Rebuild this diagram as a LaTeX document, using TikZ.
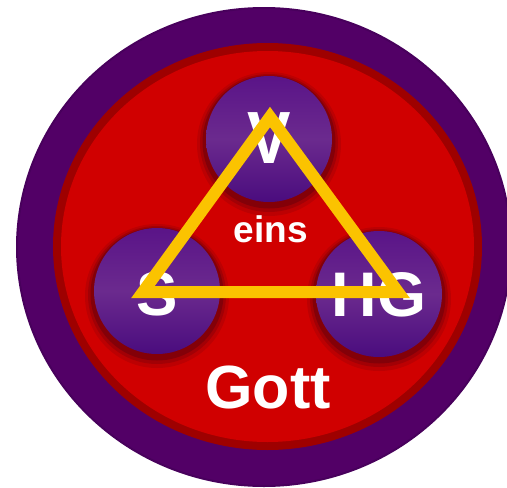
\documentclass[tikz,border=0pt]{standalone}
\usepackage{fontspec}
\setmainfont{Liberation Sans}
\usetikzlibrary{shadings}
\definecolor{outerp}{HTML}{520066}
\definecolor{outeredge}{HTML}{48005C}
\definecolor{redA}{HTML}{D00000}
\definecolor{redB}{HTML}{9E0000}
\definecolor{sphT}{HTML}{5A1488}
\definecolor{sphM}{HTML}{6B2A8E}
\definecolor{sphB}{HTML}{4A0C7E}
\definecolor{shad}{HTML}{4A0010}
\definecolor{gold}{HTML}{FBC300}
\tikzset{
  ball/.style={circle, minimum size=126pt, inner sep=0pt, top color=sphT, bottom color=sphB, middle color=sphM},
  lab/.style={text=white, font=\bfseries, inner sep=0pt, anchor=base},
}
\begin{document}
\begin{tikzpicture}[x=1pt,y=-1pt]
\useasboundingbox (0,0) rectangle (507,488);
% outer disc
\fill[outerp, draw=outeredge, line width=2pt] (264,247) ellipse [x radius=247, y radius=239];
% red disc with dark border
\fill[redB] (267.5,246.5) ellipse [x radius=214.5, y radius=203.5];
\fill[redA] (267.5,246.5) ellipse [x radius=206.5, y radius=195.5];
% shadows
\foreach \cx/\cy in {269/139,157/291,379/294}{
  \fill[shad, opacity=0.15] (\cx,\cy+5) circle (72);
  \fill[shad, opacity=0.22] (\cx,\cy+4) circle (69);
  \fill[shad, opacity=0.35] (\cx,\cy+3) circle (66.5);
}
% spheres
\node[ball] (v) at (269,139) {};
\node[ball] (s) at (157,291) {};
\node[ball] (hg) at (379,294) {};
% labels
\node[lab, font=\bfseries\fontsize{74}{74}\selectfont] (vl) at (269,163) {\scalebox{0.88}[1]{V}};
\node[lab, font=\bfseries\fontsize{62}{62}\selectfont] (sl) at (157,315) {S};
\node[lab, font=\bfseries\fontsize{63}{63}\selectfont] (hgl) at (379,316) {HG};
\node[lab, font=\bfseries\fontsize{37}{37}\selectfont] (eins) at (271,242) {eins};
\node[lab, font=\bfseries\fontsize{61}{61}\selectfont] (gott) at (268,408) {Gott};
% triangle
\coordinate (t1) at (270,117);
\coordinate (t2) at (143,292);
\coordinate (t3) at (398,292);
\draw[gold, line width=12pt, line join=miter] (t1) -- (t2) -- (t3) -- cycle;
\end{tikzpicture}
\end{document}
